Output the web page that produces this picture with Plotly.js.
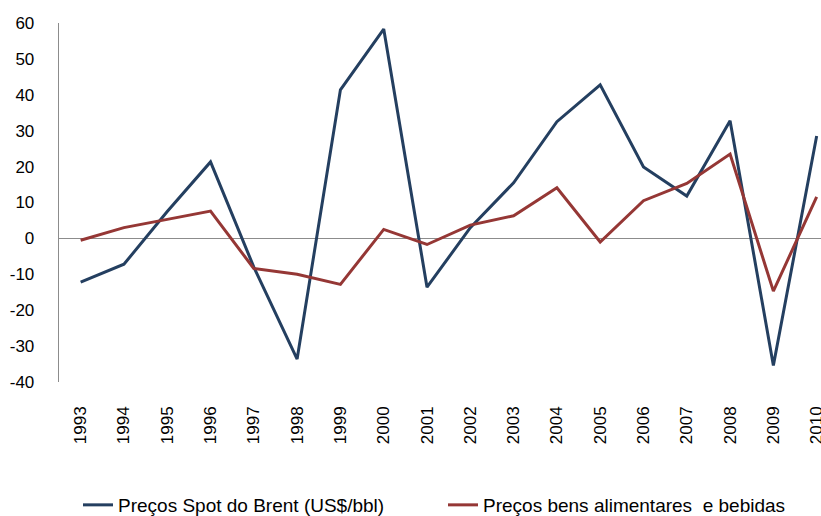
<!DOCTYPE html>
<html>
<head>
<meta charset="utf-8">
<script src="https://cdn.plot.ly/plotly-3.0.1.min.js"></script>
<style>html,body{margin:0;padding:0;background:#fff;}#chart{width:821px;height:516px;}</style>
</head>
<body>
<div id="chart"></div>
<script>
var years = ["1993","1994","1995","1996","1997","1998","1999","2000","2001","2002","2003","2004","2005","2006","2007","2008","2009","2010"];
var brentName = "Preços Spot do Brent (US$/bbl)";
var foodName = "Preços bens alimentares  e bebidas";
var brent = [-12.2, -7.2, 7.5, 21.3, -8, -33.6, 41.4, 58.3, -13.6, 3, 15.5, 32.5, 42.8, 19.9, 11.8, 32.8, -35.4, 28.5];
var food = [-0.5, 3.0, 5.3, 7.6, -8.4, -10.0, -12.8, 2.5, -1.7, 3.7, 6.3, 14.1, -1.0, 10.5, 15.3, 23.5, -14.7, 11.6];
var yTicks = [-40, -30, -20, -10, 0, 10, 20, 30, 40, 50, 60];

var fontFam = "Liberation Sans, Arial, sans-serif";
var traces = [
  {x: years, y: brent, name: brentName, type: "scatter", mode: "lines", legend: "legend",
   line: {color: "#243F60", width: 3}},
  {x: years, y: food, name: foodName, type: "scatter", mode: "lines", legend: "legend2",
   line: {color: "#953735", width: 3}}
];
var legFont = {size: 19, family: fontFam, color: "#000"};
var layout = {
  width: 821, height: 516,
  margin: {l: 59, r: 0, t: 23, b: 134},
  paper_bgcolor: "#fff", plot_bgcolor: "#fff",
  font: {family: fontFam, color: "#000"},
  showlegend: true,
  legend: {orientation: "h", xref: "container", yref: "container",
           x: 78/821, y: 11/516, xanchor: "left", yanchor: "middle", font: legFont},
  legend2: {orientation: "h", xref: "container", yref: "container",
           x: 443/821, y: 11/516, xanchor: "left", yanchor: "middle", font: legFont},
  xaxis: {type: "category", range: [-0.5, 17.1], showgrid: false, zeroline: false,
          showline: false, ticks: "", tickangle: -90, ticklabelstandoff: 20,
          tickfont: {size: 17, family: fontFam, color: "#000"}, fixedrange: true},
  yaxis: {range: [-40, 60], tickvals: yTicks, ticktext: yTicks.map(String),
          showgrid: false, zeroline: true, zerolinecolor: "#8c8c8c", zerolinewidth: 1.3,
          showline: true, linecolor: "#8c8c8c", linewidth: 1.3, ticks: "",
          ticklabelstandoff: 20,
          tickfont: {size: 17, family: fontFam, color: "#000"}, fixedrange: true}
};
Plotly.newPlot("chart", traces, layout, {displayModeBar: false, staticPlot: true});
</script>
</body>
</html>
